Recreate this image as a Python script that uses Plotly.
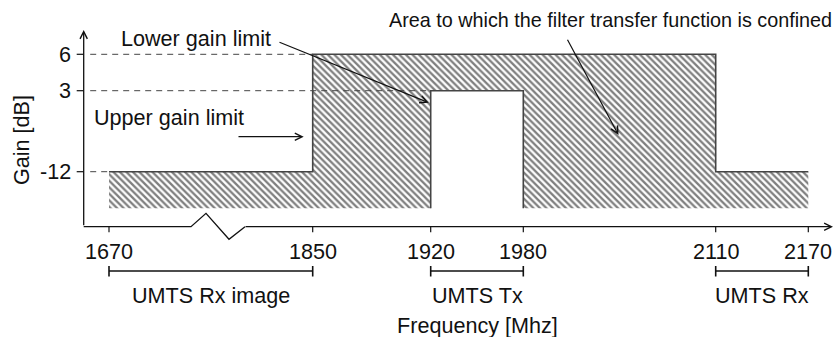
import numpy as np
import plotly.graph_objects as go

# ---------------- data ----------------
FREQ_TICKS = [1670, 1850, 1920, 1980, 2110, 2170]          # MHz
GAIN_TICKS = [6, 3, -12]                                    # dB
FLOOR_DB = -20                                              # unlabeled lower edge of shaded area

# area to which the filter transfer function is confined
MASK_FREQ = [1670, 1850, 1850, 2110, 2110, 2170, 2170, 1980, 1980, 1920, 1920, 1670]
MASK_GAIN = [-12, -12, 6, 6, -12, -12, FLOOR_DB, FLOOR_DB, 3, 3, FLOOR_DB, FLOOR_DB]

# upper gain limit (outline)
UPPER_FREQ = [1670, 1850, 1850, 2110, 2110, 2170]
UPPER_GAIN = [-12, -12, 6, 6, -12, -12]
# lower gain limit (outline of the notch)
LOWER_FREQ = [1920, 1920, 1980, 1980]
LOWER_GAIN = [FLOOR_DB, 3, 3, FLOOR_DB]

BAND_NAMES = ["UMTS Rx image", "UMTS Tx", "UMTS Rx"]
BAND_START = [1670, 1920, 2110]
BAND_END = [1850, 1980, 2170]

# ---------------- schematic (not-to-scale) axes ----------------
X_SCALE_FREQ = FREQ_TICKS
X_SCALE_POS = [109, 312.7, 430.7, 523.3, 715.7, 808.3]
Y_SCALE_DB = [FLOOR_DB, -12, 3, 6]
Y_SCALE_POS = [208.3, 171.7, 90.7, 54.3]
X0, Y0 = 83.7, 226.7          # axis origin
Y_TOP = 30                    # tip of gain axis arrow
X_END = 833                   # tip of frequency axis arrow


def fx(f):
    return np.interp(f, X_SCALE_FREQ, X_SCALE_POS)


def fy(g):
    return np.interp(g, Y_SCALE_DB, Y_SCALE_POS)


FONT = "Liberation Sans, Arial, sans-serif"
FS = 21.6
INK = "#111111"
LINE = "#444444"

fig = go.Figure()

# hatched area
fig.add_trace(go.Scatter(
    x=fx(MASK_FREQ), y=fy(MASK_GAIN), mode="lines", fill="toself",
    line=dict(width=0, color="rgba(0,0,0,0)"),
    fillcolor="white",
    fillpattern=dict(shape="\\", size=4.6, solidity=0.5, fgcolor="#000000", bgcolor="white"),
    hoverinfo="skip", showlegend=False))

# dashed guide lines
for g, f_end in [(6, 1850), (3, 1920), (-12, 1670)]:
    fig.add_trace(go.Scatter(
        x=[X0 + 6.5, fx(f_end)], y=[fy(g), fy(g)], mode="lines",
        line=dict(color=LINE, width=1, dash="6px,5px"),
        hoverinfo="skip", showlegend=False))

# outlines
fig.add_trace(go.Scatter(x=fx(UPPER_FREQ), y=fy(UPPER_GAIN), mode="lines",
                         line=dict(color=LINE, width=1.6), hoverinfo="skip", showlegend=False))
fig.add_trace(go.Scatter(x=fx(LOWER_FREQ), y=fy(LOWER_GAIN), mode="lines",
                         line=dict(color=LINE, width=1.6), hoverinfo="skip", showlegend=False))

# frequency axis with break (zig-zag)
brk_x = [X0, 191, 206, 229, 245]
brk_y = [Y0, Y0, 213.3, 239.3, Y0]
fig.add_trace(go.Scatter(x=brk_x, y=brk_y, mode="lines",
                         line=dict(color=INK, width=1.3), hoverinfo="skip", showlegend=False))

shapes = []
ann = []

# axis arrows
ann.append(dict(x=X0, y=Y_TOP, ax=X0, ay=Y0, xref="x", yref="y", axref="x", ayref="y",
                text="", showarrow=True, arrowhead=5, arrowsize=1.1, arrowwidth=1.3, arrowcolor=INK))
ann.append(dict(x=X_END, y=Y0, ax=244, ay=Y0, xref="x", yref="y", axref="x", ayref="y",
                text="", showarrow=True, arrowhead=5, arrowsize=1.1, arrowwidth=1.3, arrowcolor=INK))

# y ticks and labels
for g in GAIN_TICKS:
    shapes.append(dict(type="line", xref="x", yref="y", x0=X0 - 7, x1=X0, y0=fy(g), y1=fy(g),
                       line=dict(color=INK, width=1.2)))
    ann.append(dict(x=73, y=fy(g), xref="x", yref="y", text=str(g), showarrow=False,
                    xanchor="right", yanchor="middle", font=dict(family=FONT, size=FS, color=INK)))

# x ticks and labels
for f in FREQ_TICKS:
    shapes.append(dict(type="line", xref="x", yref="y", x0=fx(f), x1=fx(f), y0=Y0, y1=Y0 + 5.5,
                       line=dict(color=INK, width=1.2)))
    ann.append(dict(x=fx(f), y=251, xref="x", yref="y", text=str(f), showarrow=False,
                    xanchor="center", yanchor="middle", font=dict(family=FONT, size=FS, color=INK)))

# band brackets
for name, f0, f1 in zip(BAND_NAMES, BAND_START, BAND_END):
    xa, xb = fx(f0), fx(f1)
    shapes.append(dict(type="line", xref="x", yref="y", x0=xa, x1=xb, y0=271, y1=271,
                       line=dict(color=INK, width=1.4)))
    for xe in (xa, xb):
        shapes.append(dict(type="line", xref="x", yref="y", x0=xe, x1=xe, y0=266, y1=276.5,
                           line=dict(color=INK, width=1.6)))
    ann.append(dict(x=(xa + xb) / 2, y=295, xref="x", yref="y", text=name, showarrow=False,
                    xanchor="center", yanchor="middle", font=dict(family=FONT, size=FS, color=INK)))

# axis titles
ann.append(dict(x=fx(1950), y=325, xref="x", yref="y", text="Frequency [Mhz]", showarrow=False,
                xanchor="center", yanchor="middle", font=dict(family=FONT, size=FS, color=INK)))
ann.append(dict(x=21, y=140, xref="x", yref="y", text="Gain [dB]", showarrow=False, textangle=-90,
                xanchor="center", yanchor="middle", font=dict(family=FONT, size=FS, color=INK)))

# callouts
ann.append(dict(x=610.5, y=20, xref="x", yref="y", text="Area to which the filter transfer function is confined",
                showarrow=False, xanchor="center", yanchor="middle", font=dict(family=FONT, size=19.8, color=INK)))
ann.append(dict(x=119, y=38, xref="x", yref="y", text="Lower gain limit", showarrow=False,
                xanchor="left", yanchor="middle", font=dict(family=FONT, size=FS, color=INK)))
ann.append(dict(x=91.5, y=117, xref="x", yref="y", text="Upper gain limit", showarrow=False,
                xanchor="left", yanchor="middle", font=dict(family=FONT, size=FS, color=INK)))

# callout arrows
ann.append(dict(x=fx(1920) - 2, y=fy(3) + 12, ax=278, ay=41.7, xref="x", yref="y", axref="x", ayref="y",
                text="", showarrow=True, arrowhead=5, arrowsize=1.2, arrowwidth=1.2, arrowcolor=INK))
ann.append(dict(x=fx(1850) - 9, y=136.7, ax=237, ay=136.7, xref="x", yref="y", axref="x", ayref="y",
                text="", showarrow=True, arrowhead=5, arrowsize=1.2, arrowwidth=1.2, arrowcolor=INK))
ann.append(dict(x=618.5, y=135, ax=566.7, ay=38.3, xref="x", yref="y", axref="x", ayref="y",
                text="", showarrow=True, arrowhead=5, arrowsize=1.2, arrowwidth=1.2, arrowcolor=INK))

fig.update_layout(
    width=835, height=337,
    margin=dict(l=0, r=0, t=0, b=0),
    paper_bgcolor="white", plot_bgcolor="white",
    xaxis=dict(range=[0, 835], visible=False, fixedrange=True),
    yaxis=dict(range=[337, 0], visible=False, fixedrange=True),
    shapes=shapes, annotations=ann, showlegend=False,
)

fig.write_html("out.html")
